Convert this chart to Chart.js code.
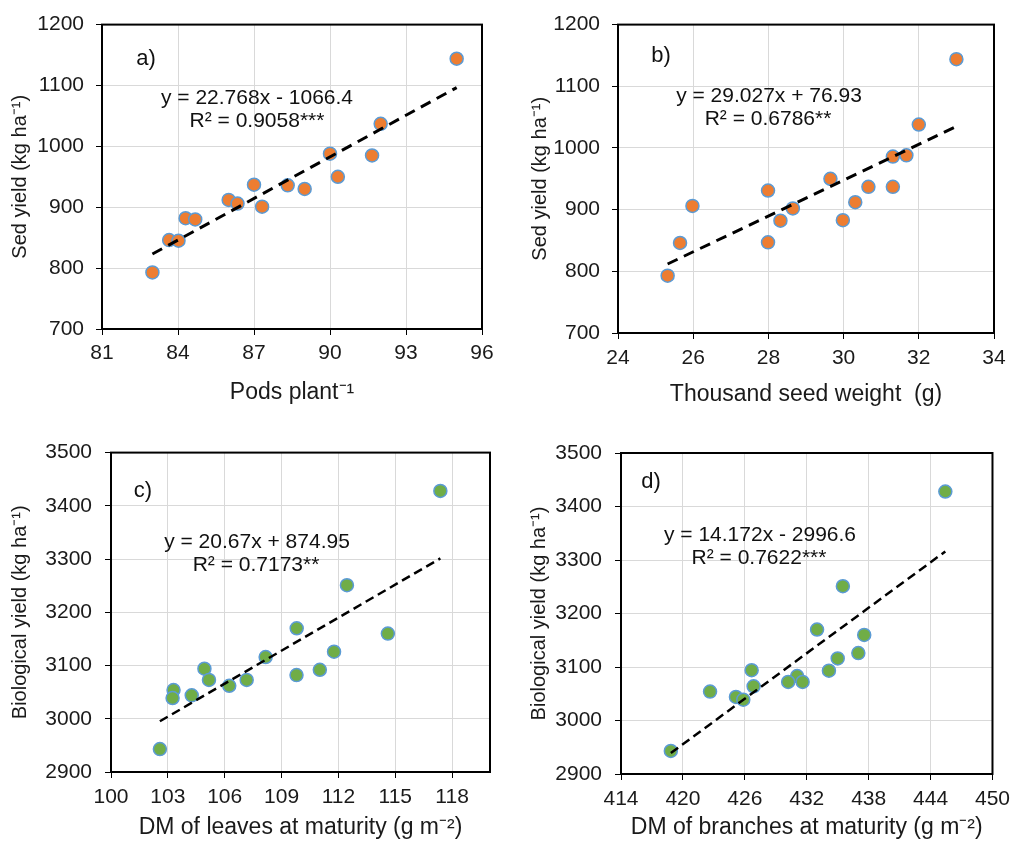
<!DOCTYPE html>
<html>
<head>
<meta charset="utf-8">
<script src="https://cdn.jsdelivr.net/npm/chart.js@4.4.1/dist/chart.umd.min.js"></script>
<style>
  body { margin: 0; background: #fff; }
  #wrap { position: relative; width: 1017px; height: 854px; }
  canvas { position: absolute; }
</style>
</head>
<body>
<div id="wrap">
  <canvas id="chartA" width="508" height="427" style="left:0;top:0"></canvas>
  <canvas id="chartB" width="509" height="427" style="left:508px;top:0"></canvas>
  <canvas id="chartC" width="508" height="427" style="left:0;top:427px"></canvas>
  <canvas id="chartD" width="509" height="427" style="left:508px;top:427px"></canvas>
</div>
<script>
// a) pods per plant vs seed yield
var podsPlant = [95.0, 92.0, 90.0, 91.66, 90.31, 87.0, 88.33, 89.0, 86.0, 86.35, 87.32, 84.3, 84.68, 83.65, 84.02, 82.99];
var seedYieldA = [1144, 1037, 988, 985, 950, 937, 936, 930, 912, 906, 901, 882, 880, 846, 845, 793];
// b) thousand seed weight vs seed yield
var seedWeight = [33.0, 32.0, 31.31, 31.67, 29.65, 27.99, 30.66, 31.31, 25.98, 28.65, 30.31, 28.32, 29.98, 25.65, 27.99, 25.32];
var seedYieldB = [1144, 1038, 986, 988, 950, 931, 937, 937, 906, 902, 912, 882, 883, 846, 847, 793];
// c) DM of leaves vs biological yield
var leavesDM = [117.38, 112.45, 109.8, 114.61, 111.77, 108.16, 111.02, 104.93, 105.17, 107.16, 109.79, 106.24, 104.26, 103.3, 103.25, 102.58];
var bioYieldC = [3428, 3251, 3170, 3160, 3126, 3116, 3092, 3094, 3073, 3073, 3082, 3062, 3044, 3054, 3039, 2943];
// d) DM of branches vs biological yield
var branchesDM = [445.43, 435.5, 433.0, 437.57, 437.0, 435.0, 434.15, 426.66, 431.07, 430.2, 431.6, 426.85, 425.14, 425.85, 422.63, 418.83];
var bioYieldD = [3428, 3251, 3170, 3160, 3126, 3116, 3093, 3094, 3083, 3072, 3072, 3064, 3044, 3039, 3054, 2943];

// trendline coefficients [slope, intercept]
var trendA = [22.768, -1066.4];
var trendB = [29.027, 76.93];
var trendC = [20.67, 874.95];
var trendD = [14.172, -2996.6];

// tick labels
var xTicksA = [81, 84, 87, 90, 93, 96];
var yTicksA = [700, 800, 900, 1000, 1100, 1200];
var xTicksB = [24, 26, 28, 30, 32, 34];
var yTicksB = [700, 800, 900, 1000, 1100, 1200];
var xTicksC = [100, 103, 106, 109, 112, 115, 118];
var yTicksC = [2900, 3000, 3100, 3200, 3300, 3400, 3500];
var xTicksD = [414, 420, 426, 432, 438, 444, 450];
var yTicksD = [2900, 3000, 3100, 3200, 3300, 3400, 3500];

Chart.defaults.font.family = "'Liberation Sans', Arial, sans-serif";
Chart.defaults.color = "#1a1a1a";

function pts(xs, ys) {
    return xs.map(function (x, i) { return { x: x, y: ys[i] }; });
}

function trendPts(xs, coef) {
    var lo = Math.min.apply(null, xs), hi = Math.max.apply(null, xs);
    return [{ x: lo, y: coef[0] * lo + coef[1] }, { x: hi, y: coef[0] * hi + coef[1] }];
}

function plain(v) { return String(v); }

var framePlugin = {
    id: "frame",
    afterDraw: function (chart) {
        var a = chart.chartArea, c = chart.ctx;
        c.save();
        c.strokeStyle = "#000";
        c.lineWidth = 2;
        c.strokeRect(a.left, a.top, a.right - a.left, a.bottom - a.top);
        var notes = chart.options.plugins.notes;
        c.fillStyle = "#111";
        c.textAlign = "center";
        c.textBaseline = "middle";
        notes.forEach(function (n) {
            c.font = n.size + "px 'Liberation Sans', Arial, sans-serif";
            c.fillText(n.text, n.x, n.y);
        });
        c.restore();
    }
};

function makeChart(id, opt) {
    var ctx = document.getElementById(id);
    return new Chart(ctx, {
        type: "scatter",
        data: {
            datasets: [
                {
                    data: trendPts(opt.xs, opt.trend),
                    showLine: true,
                    borderColor: "#000",
                    borderWidth: opt.dashWidth,
                    borderDash: opt.dash,
                    pointRadius: 0,
                },
                {
                    data: pts(opt.xs, opt.ys),
                    backgroundColor: opt.fill,
                    borderColor: "#5b9bd5",
                    borderWidth: 1.5,
                    pointRadius: 6.5,
                },
            ],
        },
        options: {
            responsive: false,
            animation: false,
            devicePixelRatio: 1,
            layout: { padding: opt.padding },
            plugins: {
                legend: { display: false },
                tooltip: { enabled: false },
                notes: opt.notes,
            },
            scales: {
                x: {
                    min: opt.xMin,
                    max: opt.xMax,
                    afterBuildTicks: function (s) { s.ticks = opt.xTicks.map(function (v) { return { value: v }; }); },
                    afterFit: function (s) { s.height = opt.xH; },
                    grid: { color: "#d9d9d9", tickColor: "#000", tickLength: 6 },
                    border: { display: false },
                    ticks: { font: { size: 21 }, padding: opt.xTickPad, maxRotation: 0, callback: plain },
                    title: { display: true, text: opt.xTitle, font: { size: 23 }, padding: { top: 0, bottom: opt.xTitlePad } },
                },
                y: {
                    min: opt.yMin,
                    max: opt.yMax,
                    afterBuildTicks: function (s) { s.ticks = opt.yTicks.map(function (v) { return { value: v }; }); },
                    afterFit: function (s) { s.width = opt.yW; },
                    grid: { color: "#d9d9d9", tickColor: "#000", tickLength: 6 },
                    border: { display: false },
                    ticks: { font: { size: 21 }, padding: opt.yTickPad, callback: plain },
                    title: { display: true, text: opt.yTitle, font: { size: 20 }, padding: { top: opt.yTitlePad, bottom: 0 } },
                },
            },
        },
        plugins: [framePlugin],
    });
}

makeChart("chartA", {
    xs: podsPlant, ys: seedYieldA, trend: trendA, fill: "#ed7d31",
    dash: [11, 7], dashWidth: 3,
    xMin: 81, xMax: 96, yMin: 700, yMax: 1200, xTicks: xTicksA, yTicks: yTicksA,
    padding: { top: 23, right: 26, left: 0, bottom: 0 },
    xH: 98, yW: 102, xTickPad: 6, yTickPad: 12, xTitlePad: 21, yTitlePad: 8,
    xTitle: "Pods plant\u207B\u00B9", yTitle: "Sed yield (kg ha\u207B\u00B9)",
    notes: [
        { text: "a)", x: 146, y: 59, size: 22 },
        { text: "y = 22.768x - 1066.4", x: 257, y: 98, size: 21 },
        { text: "R\u00B2 = 0.9058***", x: 257, y: 121, size: 21 },
    ],
});

makeChart("chartB", {
    xs: seedWeight, ys: seedYieldB, trend: trendB, fill: "#ed7d31",
    dash: [11, 7], dashWidth: 3,
    xMin: 24, xMax: 34, yMin: 700, yMax: 1200, xTicks: xTicksB, yTicks: yTicksB,
    padding: { top: 18, right: 23, left: 0, bottom: 0 },
    xH: 94, yW: 110, xTickPad: 7, yTickPad: 12, xTitlePad: 19, yTitlePad: 20,
    xTitle: "Thousand seed weight  (g)", yTitle: "Sed yield (kg ha\u207B\u00B9)",
    notes: [
        { text: "b)", x: 153, y: 56, size: 22 },
        { text: "y = 29.027x + 76.93", x: 261, y: 96, size: 21 },
        { text: "R\u00B2 = 0.6786**", x: 260, y: 119, size: 21 },
    ],
});

makeChart("chartC", {
    xs: leavesDM, ys: bioYieldC, trend: trendC, fill: "#70ad47",
    dash: [9, 5], dashWidth: 2.5,
    xMin: 100, xMax: 120, yMin: 2900, yMax: 3500, xTicks: xTicksC, yTicks: yTicksC,
    padding: { top: 25, right: 18, left: 0, bottom: 0 },
    xH: 82, yW: 111, xTickPad: 7, yTickPad: 13, xTitlePad: 13, yTitlePad: 8,
    xTitle: "DM of leaves at maturity (g m\u207B\u00B2)", yTitle: "Biological yield (kg ha\u207B\u00B9)",
    notes: [
        { text: "c)", x: 143, y: 64, size: 22 },
        { text: "y = 20.67x + 874.95", x: 257, y: 115, size: 21 },
        { text: "R\u00B2 = 0.7173**", x: 256, y: 138, size: 21 },
    ],
});

makeChart("chartD", {
    xs: branchesDM, ys: bioYieldD, trend: trendD, fill: "#70ad47",
    dash: [9, 5], dashWidth: 2.5,
    xMin: 414, xMax: 450, yMin: 2900, yMax: 3500, xTicks: xTicksD, yTicks: yTicksD,
    padding: { top: 26, right: 24, left: 0, bottom: 0 },
    xH: 80, yW: 113, xTickPad: 7, yTickPad: 13, xTitlePad: 13, yTitlePad: 19,
    xTitle: "DM of branches at maturity (g m\u207B\u00B2)", yTitle: "Biological yield (kg ha\u207B\u00B9)",
    notes: [
        { text: "d)", x: 143, y: 55, size: 22 },
        { text: "y = 14.172x - 2996.6", x: 252, y: 108, size: 21 },
        { text: "R\u00B2 = 0.7622***", x: 251, y: 131, size: 21 },
    ],
});
</script>
</body>
</html>
